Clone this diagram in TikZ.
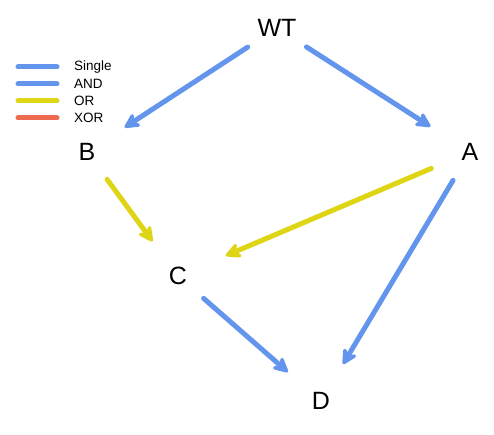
\documentclass[tikz,border=0pt]{standalone}
\usepackage{fontspec}
\setmainfont{Liberation Sans}
\usetikzlibrary{arrows.meta}
\definecolor{cblue}{RGB}{100,149,237}
\definecolor{cyellow}{RGB}{222,214,20}
\definecolor{cred}{RGB}{238,106,80}
\begin{document}
\begin{tikzpicture}[x=1pt,y=-1pt,
  lbl/.style={font=\fontsize{25}{25}\selectfont, inner sep=0pt},
  leg/.style={font=\fontsize{13.5}{14}\selectfont, inner sep=0pt, anchor=west},
  legline/.style={line width=5pt, line cap=round},
  edge/.style={line width=5pt, line cap=round, -{Stealth[length=19pt,width=19pt,inset=6pt,round]}}]
\useasboundingbox (0,0) rectangle (494,435);
\fill[white] (0,0) rectangle (494,435);
% nodes
\node[lbl] (WT) at (277,28) {WT};
\node[lbl] (B) at (87,152) {B};
\node[lbl] (A) at (470,152) {A};
\node[lbl] (C) at (178,276) {C};
\node[lbl] (D) at (321,401) {D};
% edges
\draw[edge, cblue, shorten <=35pt, shorten >=45pt] (WT.center) -- (B.center);
\draw[edge, cblue, shorten <=35pt, shorten >=47pt] (WT.center) -- (A.center);
\draw[edge, cyellow, shorten <=34pt, shorten >=43pt] (B.center) -- (C.center);
\draw[edge, cyellow, shorten <=42pt, shorten >=52pt] (A.center) -- (C.center);
\draw[edge, cblue, shorten <=33pt, shorten >=43pt] (A.center) -- (D.center);
\draw[edge, cblue, shorten <=34pt, shorten >=44pt] (C.center) -- (D.center);
% legend
\coordinate (l1a) at (18,67); \coordinate (l1b) at (57,67);
\coordinate (l2a) at (18,84); \coordinate (l2b) at (57,84);
\coordinate (l3a) at (18,101); \coordinate (l3b) at (57,101);
\coordinate (l4a) at (18,118); \coordinate (l4b) at (57,118);
\draw[legline, cblue] (l1a) -- (l1b);
\draw[legline, cblue] (l2a) -- (l2b);
\draw[legline, cyellow] (l3a) -- (l3b);
\draw[legline, cred] (l4a) -- (l4b);
\node[leg] (t1) at (74,67) {Single};
\node[leg] (t2) at (74,84) {AND};
\node[leg] (t3) at (74,101) {OR};
\node[leg] (t4) at (74,118) {XOR};
\end{tikzpicture}
\end{document}
